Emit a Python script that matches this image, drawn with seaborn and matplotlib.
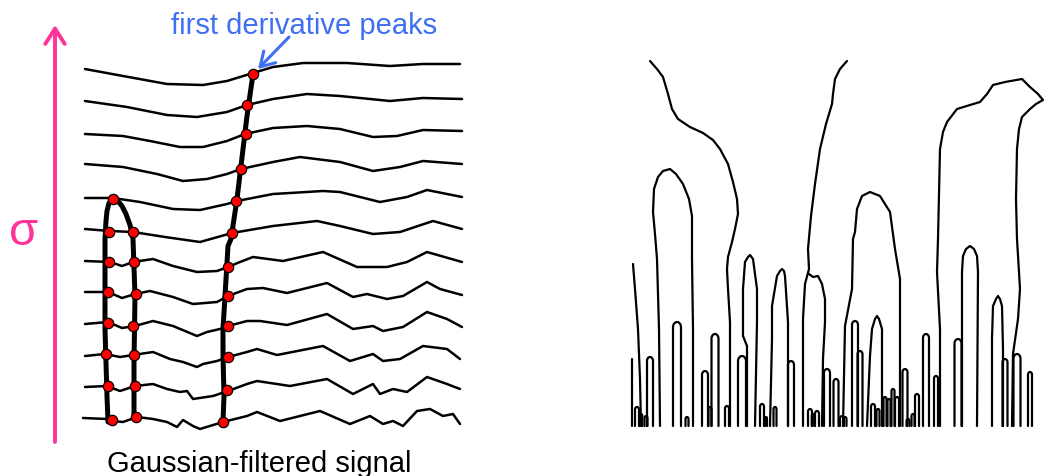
import numpy as np
import pandas as pd
import matplotlib
matplotlib.use("Agg")
import matplotlib.pyplot as plt
import seaborn as sns

sns.set_style("white")
plt.rcParams['font.family'] = ['Liberation Sans', 'DejaVu Sans']

# ---------------- Left panel: Gaussian-filtered signals (pixel coords) -------------
sig_x = [
    [85, 123, 167, 203, 227, 240, 253, 273, 303, 347, 390, 423, 460],
    [85, 127, 167, 197, 227, 247, 273, 307, 340, 390, 423, 462],
    [85, 123, 150, 180, 203, 227, 245, 273, 307, 340, 373, 397, 423, 462],
    [85, 123, 157, 183, 207, 227, 241, 273, 300, 340, 373, 400, 423, 462],
    [85, 113, 140, 173, 200, 227, 237, 273, 290, 323, 340, 380, 407, 427, 462],
    [85, 110, 133, 165, 200, 232, 273, 317, 340, 373, 400, 433, 462],
    [85, 110, 122, 133, 153, 173, 197, 217, 228, 240, 253, 283, 323, 357, 387, 407, 427, 462],
    [85, 108, 122, 135, 150, 173, 193, 217, 228, 247, 263, 287, 327, 353, 367, 387, 403, 427, 440, 462],
    [85, 108, 122, 135, 153, 173, 197, 207, 220, 228, 247, 260, 287, 327, 353, 373, 383, 403, 427, 447, 462],
    [85, 105, 120, 133, 153, 170, 183, 197, 203, 217, 228, 247, 257, 277, 323, 350, 373, 383, 400, 423, 447, 460],
    [85, 107, 120, 135, 153, 167, 180, 187, 193, 213, 228, 247, 257, 290, 327, 353, 373, 380, 393, 407, 427, 447, 460],
    [83, 107, 112, 123, 137, 153, 167, 177, 183, 193, 200, 223, 247, 257, 280, 320, 350, 370, 383, 393, 403, 417, 430, 443, 453, 460],
]
sig_y = [
    [70, 77, 85, 86, 82, 78, 74, 68, 64, 64, 67, 65, 65],
    [102, 108, 116, 118, 113, 106, 100, 95, 97, 102, 99, 100],
    [135, 137, 142, 148, 148, 142, 135, 129, 127, 130, 138, 137, 131, 132],
    [165, 168, 175, 182, 180, 175, 170, 163, 158, 163, 172, 168, 162, 165],
    [199, 199, 203, 210, 211, 205, 202, 195, 194, 192, 193, 203, 198, 191, 198],
    [230, 232, 233, 238, 243, 234, 227, 222, 227, 235, 233, 222, 230],
    [262, 263, 267, 263, 260, 267, 273, 272, 268, 263, 258, 262, 253, 268, 268, 263, 253, 263],
    [293, 293, 299, 295, 292, 298, 305, 303, 297, 290, 289, 294, 284, 298, 295, 300, 297, 283, 290, 296],
    [325, 323, 329, 327, 322, 327, 337, 333, 330, 327, 322, 322, 326, 315, 330, 327, 332, 328, 313, 320, 328],
    [357, 355, 358, 356, 353, 360, 363, 368, 365, 362, 358, 353, 350, 356, 347, 362, 355, 362, 360, 347, 350, 360],
    [388, 387, 392, 387, 385, 390, 393, 392, 400, 397, 392, 385, 382, 387, 380, 395, 385, 395, 390, 393, 378, 385, 390],
    [419, 420, 422, 423, 418, 420, 423, 428, 421, 427, 430, 423, 417, 413, 422, 412, 425, 417, 425, 422, 427, 412, 410, 417, 415, 425],
]

# thick tracks of first-derivative peaks
trackA_x = [108, 107, 105, 105, 105, 106, 107, 109, 113, 117, 122, 126, 130, 133, 135, 134, 134]
trackA_y = [423, 397, 330, 260, 240, 222, 212, 204, 199, 201, 207, 215, 226, 240, 297, 363, 417]
trackC_x = [253, 247, 237, 231, 228, 225, 223, 223, 224, 223]
trackC_y = [75, 117, 200, 240, 247, 297, 330, 357, 397, 422]

# red peak dots
peak_x = [113, 109, 109, 108, 108, 106, 108, 112,
          133, 134, 136, 133, 134, 135, 136,
          253, 247, 246, 241, 236, 232, 228, 228, 228, 228, 227, 223]
peak_y = [200, 233, 263, 293, 324, 355, 387, 421,
          233, 263, 295, 327, 356, 387, 418,
          75, 106, 135, 170, 202, 234, 268, 297, 327, 358, 391, 423]

# ---------------- Right panel: scale-space fingerprint -------------
BASE = 427
open_curves = [
    ([650, 657, 663, 668, 672, 678, 690, 703, 713, 720, 728, 733, 737, 738, 735, 732, 728, 727, 728, 730, 730, 730],
     [62, 70, 78, 95, 110, 120, 128, 134, 141, 150, 165, 183, 200, 215, 230, 243, 258, 270, 290, 323, 380, 427]),
    ([847, 840, 835, 833, 832, 826, 820, 815, 811, 808, 809, 805, 803, 803],
     [62, 70, 80, 95, 105, 125, 150, 185, 217, 250, 270, 285, 320, 427]),
    ([809, 813, 818, 822, 825, 825, 823, 822],
     [275, 278, 277, 285, 300, 323, 360, 427]),
    ([940, 940, 937, 938, 940, 943, 947, 957, 970, 980, 987, 993, 1005, 1022, 1030, 1038, 1043,
      1036, 1030, 1022, 1019, 1017, 1016, 1017, 1020, 1018, 1013, 1012],
     [427, 330, 273, 240, 150, 133, 123, 110, 106, 103, 95, 86, 83, 80, 88, 95, 101,
      105, 110, 118, 130, 150, 200, 240, 290, 320, 355, 427]),
    ([660, 659, 657, 655, 653, 654, 658, 663, 670, 676, 683, 689, 692, 692, 693, 693],
     [427, 330, 260, 235, 213, 190, 178, 172, 170, 175, 185, 200, 217, 260, 330, 427]),
    ([843, 845, 852, 853, 855, 857, 862, 870, 880, 890, 895, 900, 900],
     [427, 327, 290, 240, 233, 210, 197, 193, 197, 213, 250, 280, 427]),
    ([962, 962, 963, 966, 970, 974, 977, 978, 977],
     [427, 273, 257, 250, 247, 250, 257, 273, 427]),
    ([747, 747, 743, 743, 745, 748, 750, 753, 757, 757, 755],
     [427, 347, 337, 290, 263, 258, 256, 260, 290, 323, 427]),
    ([770, 772, 772, 777, 780, 782, 784, 785, 788, 788],
     [427, 340, 307, 277, 272, 270, 272, 277, 323, 427]),
    ([992, 992, 993, 996, 998, 1000, 1002, 1003, 1003],
     [427, 340, 307, 300, 297, 300, 307, 350, 427]),
    ([867, 870, 872, 875, 877, 879, 882, 882],
     [427, 357, 330, 320, 317, 320, 330, 427]),
    ([633, 635, 638, 640, 641], [265, 290, 330, 380, 427]),
    ([632, 632], [360, 427]),
]

# narrow arches: centre, half-width, top
arch_cx = [650, 677, 705, 715, 742, 791, 827, 836, 855, 860, 905, 917, 926, 936, 958, 1005, 1017, 1030,
           637, 641, 646, 687, 710, 727, 762, 766, 775, 810, 813, 817, 842, 845, 873, 878, 885, 889, 893, 897, 908, 913]
arch_hw = [3, 4, 3, 3.5, 4, 3, 3, 2.5, 3, 2.5, 2.5, 2, 3, 2, 3.5, 2.5, 3.5, 2,
           2, 1.2, 1.5, 1.5, 1.5, 2, 2, 1, 1.5, 2, 1.2, 2, 2, 1.5, 2, 1.5, 1.5, 1.5, 1.5, 2, 1.5, 1.5]
arch_top = [358, 323, 372, 335, 357, 362, 370, 380, 322, 352, 370, 395, 335, 377, 340, 360, 355, 373,
            408, 415, 417, 418, 408, 407, 405, 418, 408, 410, 415, 412, 417, 418, 405, 410, 398, 400, 390, 398, 420, 415]

# ---------------- build dataframes ----------------
rows = []
for i, (xs, ys) in enumerate(zip(sig_x, sig_y)):
    for x, y in zip(xs, ys):
        rows.append((x, y, i))
df_sig = pd.DataFrame(rows, columns=["x", "y", "line"])

rows = []
uid = 0
for xs, ys in open_curves:
    for x, y in zip(xs, ys):
        rows.append((x, y, uid))
    uid += 1
for cx, hw, top in zip(arch_cx, arch_hw, arch_top):
    th = np.linspace(np.pi, 0, 13)
    r = hw * 1.3
    xs = [cx - hw] + list(cx + hw * np.cos(th)) + [cx + hw]
    ys = [BASE] + list(top + r * (1 - np.sin(th))) + [BASE]
    for x, y in zip(xs, ys):
        rows.append((x, y, uid))
    uid += 1
df_fp = pd.DataFrame(rows, columns=["x", "y", "unit"])

df_tracks = pd.DataFrame({
    "x": trackA_x + trackC_x,
    "y": trackA_y + trackC_y,
    "unit": [0] * len(trackA_x) + [1] * len(trackC_x),
})
df_peaks = pd.DataFrame({"x": peak_x, "y": peak_y})

# ---------------- draw ----------------
fig = plt.figure(figsize=(10.46, 4.77), dpi=100)
ax = fig.add_axes([0, 0, 1, 1])

sns.lineplot(data=df_sig, x="x", y="y", units="line", estimator=None, sort=False,
             color="black", lw=1.8, ax=ax, legend=False,
             solid_joinstyle="round", solid_capstyle="round")
sns.lineplot(data=df_tracks, x="x", y="y", units="unit", estimator=None, sort=False,
             color="black", lw=3.6, ax=ax, legend=False,
             solid_joinstyle="round", solid_capstyle="round")
sns.scatterplot(data=df_peaks, x="x", y="y", color="#ff0000", edgecolor="black",
                linewidth=0.9, s=55, ax=ax, legend=False, zorder=5)
sns.lineplot(data=df_fp, x="x", y="y", units="unit", estimator=None, sort=False,
             color="black", lw=1.6, ax=ax, legend=False,
             solid_joinstyle="round", solid_capstyle="round")

pink = "#ff3399"
blue = "#3f6ff2"
ax.annotate("", xy=(55, 26), xytext=(55, 443),
            arrowprops=dict(arrowstyle="->,head_length=0.55,head_width=0.35",
                            color=pink, lw=2.8, mutation_scale=20,
                            shrinkA=0, shrinkB=0))
ax.text(24, 245, "σ", color=pink, fontsize=34, ha="center", va="baseline")

ax.annotate("", xy=(258, 70), xytext=(289, 38),
            arrowprops=dict(arrowstyle="->,head_length=0.5,head_width=0.3",
                            color=blue, lw=2.2, mutation_scale=20,
                            shrinkA=0, shrinkB=0))
ax.text(304, 34, "first derivative peaks", color=blue, fontsize=21,
        ha="center", va="baseline")
ax.text(259, 472, "Gaussian-filtered signal", color="black", fontsize=21,
        ha="center", va="baseline")

ax.set_xlim(0, 1046)
ax.set_ylim(477, 0)
ax.axis("off")
fig.savefig("out.png", dpi=100, facecolor="white")
